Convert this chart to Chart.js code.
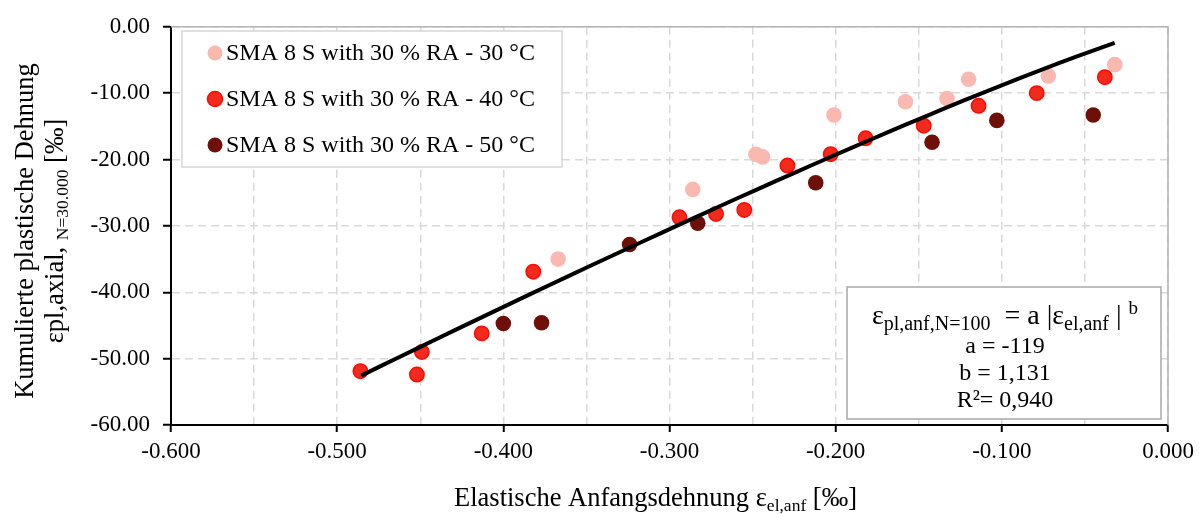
<!DOCTYPE html>
<html>
<head>
<meta charset="utf-8">
<script src="https://cdn.jsdelivr.net/npm/chart.js@4/dist/chart.umd.min.js"></script>
<style>
  html, body { margin: 0; padding: 0; background: #ffffff; }
  canvas { display: block; }
</style>
</head>
<body>
<canvas id="chart" width="1200" height="514"></canvas>
<script>
// ---- data -------------------------------------------------------------
const seriesLabels = [
  'SMA 8 S with 30 % RA - 30 °C',
  'SMA 8 S with 30 % RA - 40 °C',
  'SMA 8 S with 30 % RA - 50 °C'
];

// elastic initial strain [‰] / cumulative plastic strain [‰]
const x30 = [-0.367, -0.286, -0.248, -0.244, -0.201, -0.158, -0.133, -0.120, -0.072, -0.032];
const y30 = [-35.0, -24.5, -19.2, -19.6, -13.3, -11.3, -10.8, -7.9, -7.4, -5.7];

const x40 = [-0.486, -0.452, -0.449, -0.413, -0.382, -0.294, -0.272, -0.255, -0.229, -0.203, -0.182, -0.147, -0.114, -0.079, -0.038];
const y40 = [-51.9, -52.4, -49.0, -46.2, -36.9, -28.7, -28.2, -27.6, -20.9, -19.2, -16.8, -14.9, -11.9, -10.0, -7.6];

const x50 = [-0.400, -0.377, -0.324, -0.283, -0.212, -0.142, -0.103, -0.045];
const y50 = [-44.7, -44.6, -32.8, -29.6, -23.5, -17.4, -14.1, -13.3];

// power-law fit  eps_pl = a * |eps_el|^b
const fitA = -119;
const fitB = 1.131;
const fitR2 = '0,940';
const fitXFrom = -0.4855;
const fitXTo = -0.0321;

// axes
const xMin = -0.6, xMax = 0, xStep = 0.05;
const yMin = -60, yMax = 0, yStep = 10;

const colors = {
  c30: '#f9b8b0',
  c40fill: '#f2291d',
  c40border: '#ff0a00',
  c50: '#6e1007',
  grid: '#d9d9d9',
  frame: '#b3b3b3'
};

// ---- helpers ----------------------------------------------------------
const FAMILY = '"Liberation Serif", "Times New Roman", serif';
const font = (sz) => sz + 'px ' + FAMILY;
const pts = (xs, ys) => xs.map((x, i) => ({ x: x, y: ys[i] }));

const fitPoints = [];
{
  const n = 40;
  for (let i = 0; i <= n; i++) {
    const x = fitXFrom + (fitXTo - fitXFrom) * i / n;
    fitPoints.push({ x: x, y: fitA * Math.pow(Math.abs(x), fitB) });
  }
}

function runsWidth(ctx, runs) {
  let w = 0;
  for (const r of runs) { ctx.font = font(r.size); w += ctx.measureText(r.t).width; }
  return w;
}
function drawRuns(ctx, runs, x, y) {
  for (const r of runs) {
    ctx.font = font(r.size);
    ctx.fillText(r.t, x, y + (r.dy || 0));
    x += ctx.measureText(r.t).width;
  }
}
const isMajorX = (v) => Math.abs(Math.round(v * 20)) % 2 === 0;

// ---- custom drawing: frame, legend, fit box, axis titles ---------------
const decorations = {
  id: 'decorations',
  beforeDatasetsDraw(chart) {
    const { ctx, chartArea: a } = chart;
    ctx.save();
    ctx.strokeStyle = colors.frame;
    ctx.lineWidth = 1.5;
    ctx.beginPath();
    ctx.moveTo(a.left, a.top);
    ctx.lineTo(a.right, a.top);
    ctx.lineTo(a.right, a.bottom);
    ctx.stroke();
    ctx.restore();
  },
  afterDraw(chart) {
    const { ctx, chartArea: a } = chart;
    ctx.save();
    ctx.fillStyle = '#000';

    // legend
    const lg = { x: 182, y: 31, w: 380, h: 136 };
    ctx.fillStyle = '#fff';
    ctx.fillRect(lg.x, lg.y, lg.w, lg.h);
    ctx.strokeStyle = '#d6d6d6';
    ctx.lineWidth = 1.5;
    ctx.strokeRect(lg.x, lg.y, lg.w, lg.h);
    const rows = [53, 99, 145];
    chart.data.datasets.slice(0, 3).forEach((ds, i) => {
      ctx.beginPath();
      ctx.arc(215, rows[i], 7.5, 0, Math.PI * 2);
      ctx.fillStyle = ds.backgroundColor;
      ctx.fill();
      if (ds.borderWidth) {
        ctx.strokeStyle = ds.borderColor;
        ctx.lineWidth = ds.borderWidth;
        ctx.stroke();
      }
      ctx.fillStyle = '#000';
      ctx.font = font(24);
      ctx.textBaseline = 'middle';
      ctx.textAlign = 'left';
      ctx.fillText(ds.label, 226, rows[i] + 1);
    });

    // fit box
    const fb = { x: 847, y: 287, w: 314, h: 132 };
    ctx.fillStyle = '#fff';
    ctx.fillRect(fb.x, fb.y, fb.w, fb.h);
    ctx.strokeStyle = '#a8a8a8';
    ctx.lineWidth = 1.5;
    ctx.strokeRect(fb.x, fb.y, fb.w, fb.h);
    const cx = fb.x + fb.w / 2 + 1;
    ctx.fillStyle = '#000';
    ctx.textAlign = 'left';
    ctx.textBaseline = 'alphabetic';
    const eq = [
      { t: 'ε', size: 28 },
      { t: 'pl,anf,N=100', size: 20, dy: 6 },
      { t: '  = a |ε', size: 28 },
      { t: 'el,anf', size: 20, dy: 6 },
      { t: ' | ', size: 28 },
      { t: 'b', size: 19, dy: -10 }
    ];
    drawRuns(ctx, eq, cx - runsWidth(ctx, eq) / 2, 324);
    ctx.font = font(24);
    ctx.textAlign = 'center';
    ctx.textBaseline = 'middle';
    ctx.fillText('a = ' + fitA, cx, 347);
    ctx.fillText('b = ' + String(fitB).replace('.', ','), cx, 374);
    ctx.fillText('R²= ' + fitR2, cx, 401);

    // x-axis title
    ctx.textAlign = 'left';
    ctx.textBaseline = 'alphabetic';
    const xt = [
      { t: 'Elastische Anfangsdehnung ε', size: 26.5 },
      { t: 'el,anf', size: 17.5, dy: 5 },
      { t: ' [‰]', size: 26.5 }
    ];
    const xc = (a.left + a.right) / 2 - 14;
    drawRuns(ctx, xt, xc - runsWidth(ctx, xt) / 2, 506);

    // y-axis title (two lines, rotated)
    const yc = 231;
    ctx.save();
    ctx.translate(33, yc);
    ctx.rotate(-Math.PI / 2);
    const y1 = [{ t: 'Kumulierte plastische Dehnung', size: 26.5 }];
    drawRuns(ctx, y1, -runsWidth(ctx, y1) / 2, 0);
    ctx.restore();
    ctx.save();
    ctx.translate(63, yc);
    ctx.rotate(-Math.PI / 2);
    const y2 = [
      { t: 'εpl,axial, ', size: 26.5 },
      { t: 'N=30.000', size: 17.5, dy: 5 },
      { t: ' [‰]', size: 26.5 }
    ];
    drawRuns(ctx, y2, -runsWidth(ctx, y2) / 2, 0);
    ctx.restore();

    ctx.restore();
  }
};

// ---- chart ------------------------------------------------------------
new Chart(document.getElementById('chart'), {
  type: 'scatter',
  data: {
    datasets: [
      {
        label: seriesLabels[0],
        data: pts(x30, y30),
        backgroundColor: colors.c30,
        borderColor: colors.c30,
        borderWidth: 0,
        pointRadius: 7.8,
        order: 3
      },
      {
        label: seriesLabels[1],
        data: pts(x40, y40),
        backgroundColor: colors.c40fill,
        borderColor: colors.c40border,
        borderWidth: 1.5,
        pointRadius: 7.2,
        order: 2
      },
      {
        label: seriesLabels[2],
        data: pts(x50, y50),
        backgroundColor: colors.c50,
        borderColor: colors.c50,
        borderWidth: 0,
        pointRadius: 7.8,
        order: 1
      },
      {
        label: 'fit',
        data: fitPoints,
        showLine: true,
        borderColor: '#000000',
        borderWidth: 4,
        pointRadius: 0,
        fill: false,
        order: 0
      }
    ]
  },
  options: {
    responsive: false,
    animation: false,
    devicePixelRatio: 1,
    layout: { padding: { top: 24, right: 32, left: 0, bottom: 0 } },
    plugins: { legend: { display: false }, tooltip: { enabled: false } },
    scales: {
      x: {
        type: 'linear',
        min: xMin,
        max: xMax,
        afterFit: (s) => { s.height = 89; },
        ticks: {
          stepSize: xStep,
          autoSkip: false,
          maxRotation: 0,
          padding: 6,
          color: '#000',
          font: { family: FAMILY, size: 23 },
          callback: (v) => isMajorX(v) ? Number(v).toFixed(3) : ''
        },
        grid: {
          color: colors.grid,
          lineWidth: 1.5,
          drawTicks: true,
          tickLength: 7,
          tickWidth: 2,
          tickColor: (c) => (c.tick && isMajorX(c.tick.value)) ? '#000' : 'rgba(0,0,0,0)'
        },
        border: { display: true, color: '#000', width: 2, dash: [8, 5] }
      },
      y: {
        type: 'linear',
        min: yMin,
        max: yMax,
        afterFit: (s) => { s.width = 171; },
        ticks: {
          stepSize: yStep,
          padding: 13,
          color: '#000',
          font: { family: FAMILY, size: 23 },
          callback: (v) => Number(v).toFixed(2)
        },
        grid: {
          color: colors.grid,
          lineWidth: 1.5,
          drawTicks: true,
          tickLength: 8,
          tickWidth: 2,
          tickColor: '#000'
        },
        border: { display: true, color: '#000', width: 2, dash: [8, 5] }
      }
    }
  },
  plugins: [decorations]
});
</script>
</body>
</html>
